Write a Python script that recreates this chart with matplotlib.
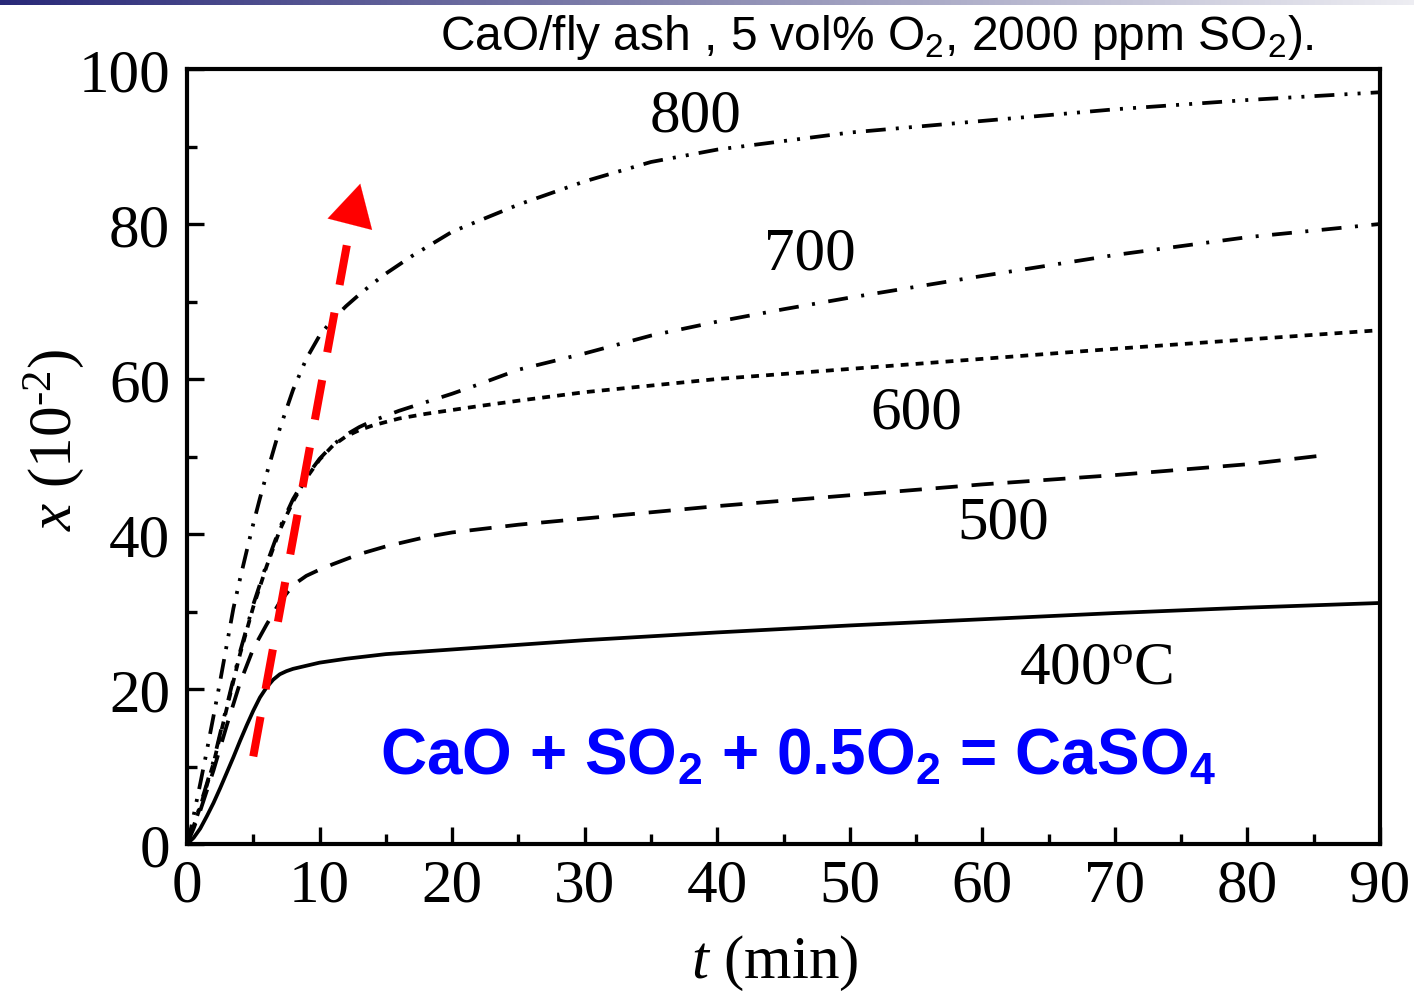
import numpy as np
import matplotlib
matplotlib.use("Agg")
import matplotlib.pyplot as plt
from matplotlib.colors import LinearSegmentedColormap

plt.rcParams['mathtext.fontset'] = 'custom'
plt.rcParams['mathtext.rm'] = 'Liberation Serif'
plt.rcParams['mathtext.it'] = 'Liberation Serif:italic'
plt.rcParams['font.family'] = ['Liberation Serif', 'DejaVu Serif']

# ---------------- data (conversion x in 10^-2 vs time t in min) ----------------
t400 = [0, 0.5, 1, 1.5, 2, 2.5, 3, 3.5, 4, 4.5, 5, 5.5, 6, 6.5, 7, 7.5, 8, 9, 10,
        12, 15, 20, 25, 30, 40, 50, 60, 70, 80, 90]
x400 = [0, 0.8, 2.0, 3.6, 5.3, 7.2, 9.2, 11.2, 13.3, 15.3, 17.2, 18.9, 20.2, 21.2,
        21.9, 22.3, 22.6, 23.0, 23.4, 23.9, 24.5, 25.1, 25.7, 26.3, 27.3, 28.2,
        29.0, 29.8, 30.5, 31.1]

t500 = [0, 0.5, 1, 2, 3, 4, 5, 6, 7, 8, 9, 10, 11, 13, 15, 18, 20, 25, 30, 40,
        50, 60, 70, 80, 86]
x500 = [0, 2.0, 4.3, 9.5, 15.3, 20.8, 25.2, 28.3, 31.2, 33.4, 34.6, 35.4, 36.1,
        37.4, 38.4, 39.6, 40.2, 41.2, 42.0, 43.6, 45.0, 46.4, 47.6, 49.0, 50.2]

t600 = [0, 0.5, 1, 1.5, 2, 3, 4, 5, 6, 7, 8, 9, 10, 11, 12, 13, 14, 16, 18, 20,
        22, 25, 30, 40, 50, 60, 70, 80, 90]
x600 = [0, 2.3, 4.8, 7.6, 10.4, 17.5, 24.5, 30.6, 35.8, 40.5, 44.2, 47.2, 49.6,
        51.4, 52.6, 53.4, 54.0, 54.9, 55.5, 56.0, 56.5, 57.2, 58.3, 60.0, 61.3,
        62.6, 63.9, 65.1, 66.3]

t700 = [0, 0.5, 1, 1.5, 2, 3, 4, 5, 6, 7, 8, 9, 10, 11, 12, 13, 14, 16, 18, 20,
        22, 25, 30, 35, 40, 45, 50, 60, 70, 80, 90]
x700 = [0, 2.4, 5.0, 7.8, 10.7, 17.8, 24.8, 30.9, 36.1, 40.8, 44.5, 47.4, 49.7,
        51.5, 52.8, 53.8, 54.6, 55.9, 57.0, 58.1, 59.3, 61.2, 63.3, 65.6, 67.4,
        69.0, 70.5, 73.3, 76.0, 78.3, 80.0]

t800 = [0, 0.3, 0.6, 1, 1.4, 2, 2.5, 3, 3.5, 4, 4.5, 5, 5.5, 6, 7, 8, 9, 10, 11,
        12, 13, 14, 15, 17, 20, 25, 30, 35, 40, 45, 50, 60, 70, 80, 90]
x800 = [0, 2.0, 4.5, 7.8, 11.2, 16.5, 21.0, 25.7, 30.4, 34.2, 37.8, 41.3, 44.6,
        47.7, 53.6, 58.6, 62.6, 65.6, 67.7, 69.4, 70.9, 72.3, 73.6, 75.9, 79.0,
        82.5, 85.5, 88.0, 89.6, 90.7, 91.8, 93.3, 94.8, 96.0, 97.0]

curve_labels = ["400$\\mathregular{^o}$C", "500", "600", "700", "800"]
label_t = [68.6, 61.6, 55.0, 47.0, 38.4]
label_x = [20.8, 39.5, 53.7, 74.2, 92.0]

xticks = [0, 10, 20, 30, 40, 50, 60, 70, 80, 90]
yticks = [0, 20, 40, 60, 80, 100]

arrow_start = (5.0, 11.3)
arrow_base = (12.5, 81.4)
arrow_tip = (13.07, 85.2)

title_text = "CaO/fly ash , 5 vol% O$\\mathregular{_2}$, 2000 ppm SO$\\mathregular{_2}$)."
reaction_text = ("CaO + SO$\\mathregular{_2}$ + 0.5O$\\mathregular{_2}$ = "
                 "CaSO$\\mathregular{_4}$")

# ---------------- figure ----------------
fig = plt.figure(figsize=(14.14, 9.95), dpi=100)

# gradient bar at top
bar_ax = fig.add_axes([0, 1 - 6 / 995, 1, 6 / 995])
cmap = LinearSegmentedColormap.from_list(
    "bar", [(0.16, 0.16, 0.47), (0.55, 0.55, 0.70), (0.93, 0.93, 0.95)])
bar_ax.imshow(np.linspace(0, 1, 512)[None, :], aspect='auto', cmap=cmap,
              extent=[0, 1, 0, 1])
bar_ax.set_axis_off()

ax = fig.add_axes([187 / 1414, 1 - 845 / 995, (1380 - 187) / 1414, (845 - 70) / 995])

lw = 2.7
ax.plot(t400, x400, color='black', lw=lw, solid_capstyle='round')
ax.plot(t500, x500, color='black', lw=lw, linestyle=(0, (5.9, 3.7)))
ax.plot(t600, x600, color='black', lw=lw, linestyle=(0, (2.1, 1.9)))
ax.plot(t700, x700, color='black', lw=lw, linestyle=(0, (5.3, 3.6, 0.8, 3.6)))
ax.plot(t800, x800, color='black', lw=lw,
        linestyle=(0, (5.3, 2.7, 0.8, 2.7, 0.8, 2.7)))

for lab, tx, xx in zip(curve_labels, label_t, label_x):
    ax.text(tx, xx, lab, fontsize=44, ha='center', va='baseline',
            family='Liberation Serif')

# red dashed arrow
ax.plot([arrow_start[0], arrow_base[0]], [arrow_start[1], arrow_base[1]],
        color='red', lw=5.8, linestyle=(0, (5, 3.5)), solid_capstyle='butt',
        dash_capstyle='butt', zorder=5)
ax.annotate('', xy=arrow_tip, xytext=arrow_base,
            arrowprops=dict(arrowstyle='-|>,head_length=1.0,head_width=0.55',
                            mutation_scale=30, color='red', lw=0.1,
                            shrinkA=0, shrinkB=0), zorder=6)

# reaction equation
ax.text(46.1, 9.0, reaction_text, fontsize=46, color=(0, 0, 1),
        family='Liberation Sans', fontweight='bold', ha='center', va='baseline')

# title text at top
fig.text(877 / 1414, 1 - 50 / 995, title_text, fontsize=34.5,
         family='Liberation Sans', ha='center', va='baseline')

ax.set_xlim(0, 90)
ax.set_ylim(0, 100)
ax.set_xticks(xticks)
ax.set_yticks(yticks)
ax.set_xticks(np.arange(5, 90, 10), minor=True)
ax.set_yticks(np.arange(10, 100, 20), minor=True)
ax.tick_params(which='both', direction='in', top=False, right=False, width=2.4)
ax.tick_params(which='major', length=12, labelsize=44, pad=12)
ax.tick_params(which='minor', length=7)
ax.tick_params(axis='x', which='major', pad=10)
for lab in ax.get_xticklabels() + ax.get_yticklabels():
    lab.set_family('Liberation Serif')
for sp in ax.spines.values():
    sp.set_linewidth(3)

ax.set_xlabel("$\\mathit{t}$ (min)", fontsize=44)
ax.set_ylabel("$\\mathit{x}$ (10$\\mathregular{^{\u2010 2}}$)", fontsize=44)
ax.xaxis.set_label_coords(0.493, -0.115)
ax.yaxis.set_label_coords(-0.085, 0.523)

fig.savefig("out.png", dpi=100)
